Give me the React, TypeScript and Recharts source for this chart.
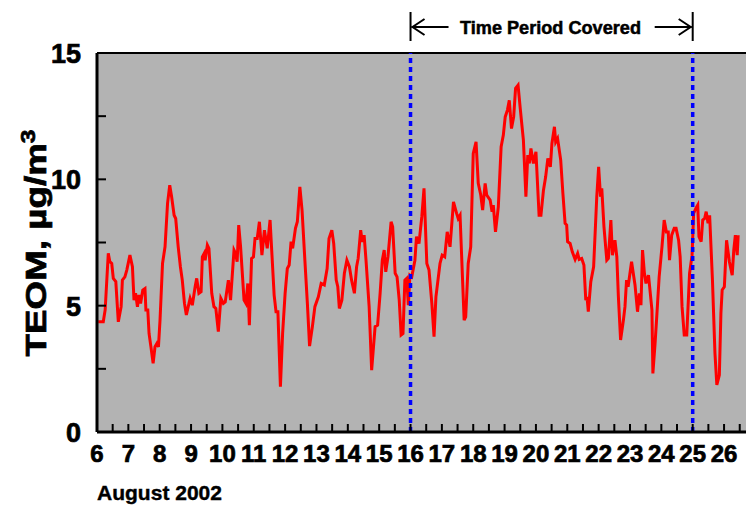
import { LineChart, Line, XAxis, YAxis, CartesianGrid, ReferenceLine } from 'recharts';

// hourly-ish TEOM readings, August 2002 (day of month, fractional)
const days = [
  6.04, 6.2, 6.26, 6.36, 6.41, 6.47, 6.52, 6.6, 6.68, 6.77, 6.81, 6.89, 6.95, 7.05, 7.13, 7.18, 7.23, 7.29, 7.34, 7.39,
  7.46, 7.53, 7.56, 7.62, 7.66, 7.72, 7.79, 7.85, 7.91, 7.96, 8.01, 8.09, 8.17, 8.25, 8.32, 8.38, 8.46, 8.51, 8.59, 8.66,
  8.72, 8.79, 8.85, 8.91, 8.97, 9.04, 9.13, 9.18, 9.25, 9.32, 9.36, 9.42, 9.45, 9.52, 9.57, 9.66, 9.73, 9.79, 9.87, 9.95,
  10.03, 10.09, 10.19, 10.26, 10.37, 10.42, 10.47, 10.52, 10.58, 10.69, 10.75, 10.81, 10.86, 10.93, 10.99, 11.04, 11.11,
  11.18, 11.26, 11.34, 11.43, 11.52, 11.65, 11.71, 11.77, 11.85, 11.92, 12.0, 12.07, 12.13, 12.19, 12.24, 12.33, 12.39,
  12.47, 12.54, 12.63, 12.71, 12.78, 12.87, 12.95, 13.06, 13.15, 13.25, 13.34, 13.4, 13.49, 13.55, 13.63, 13.68, 13.73,
  13.81, 13.89, 13.97, 14.05, 14.12, 14.21, 14.28, 14.33, 14.41, 14.46, 14.52, 14.58, 14.68, 14.76, 14.87, 14.95, 15.03,
  15.1, 15.16, 15.21, 15.28, 15.38, 15.43, 15.51, 15.57, 15.64, 15.7, 15.76, 15.82, 15.88, 15.93, 15.98, 16.04, 16.14,
  16.19, 16.27, 16.36, 16.43, 16.52, 16.59, 16.68, 16.75, 16.81, 16.94, 17.01, 17.09, 17.17, 17.26, 17.37, 17.47, 17.52,
  17.58, 17.66, 17.71, 17.76, 17.84, 17.92, 18.0, 18.09, 18.16, 18.24, 18.3, 18.38, 18.43, 18.54, 18.6, 18.64, 18.71,
  18.8, 18.89, 18.96, 19.02, 19.09, 19.15, 19.22, 19.29, 19.35, 19.43, 19.5, 19.6, 19.68, 19.74, 19.79, 19.84, 19.92,
  20.0, 20.1, 20.16, 20.24, 20.31, 20.38, 20.46, 20.51, 20.59, 20.63, 20.69, 20.79, 20.86, 20.93, 20.98, 21.01, 21.09,
  21.16, 21.25, 21.33, 21.38, 21.46, 21.53, 21.59, 21.63, 21.67, 21.75, 21.84, 21.94, 22.0, 22.06, 22.1, 22.17, 22.26,
  22.31, 22.39, 22.44, 22.52, 22.58, 22.63, 22.7, 22.79, 22.84, 22.89, 22.94, 23.05, 23.16, 23.24, 23.3, 23.35, 23.4,
  23.46, 23.51, 23.59, 23.7, 23.73, 23.8, 23.85, 23.93, 24.02, 24.09, 24.16, 24.22, 24.26, 24.33, 24.41, 24.47, 24.55,
  24.6, 24.66, 24.73, 24.81, 24.9, 24.98, 25.03, 25.1, 25.16, 25.2, 25.27, 25.32, 25.38, 25.43, 25.49, 25.54, 25.63,
  25.71, 25.77, 25.85, 25.9, 25.94, 26.01, 26.08, 26.17, 26.26, 26.31, 26.36, 26.42, 26.45,
];

const teom = [
  4.36, 4.36, 4.83, 7.07, 6.74, 6.67, 6.08, 5.95, 4.36, 4.96, 6.01, 6.14, 6.41, 7.0, 6.54, 5.22, 5.49, 4.96, 5.42, 5.09,
  5.62, 5.68, 4.83, 4.83, 3.9, 3.37, 2.72, 3.37, 3.5, 3.37, 4.43, 6.67, 7.33, 9.05, 9.77, 9.31, 8.58, 8.45, 7.33, 6.54,
  6.01, 5.09, 4.63, 4.96, 5.29, 5.02, 5.75, 6.08, 5.49, 5.55, 6.93, 7.07, 6.8, 7.4, 7.27, 5.49, 4.96, 4.89, 3.97, 5.29,
  5.09, 5.15, 6.01, 5.22, 7.2, 7.07, 6.74, 8.19, 7.33, 5.22, 5.09, 5.88, 4.23, 6.87, 6.93, 7.66, 7.66,
  8.32, 7.0, 7.99, 7.27, 8.39, 5.42, 4.76, 4.76, 1.79, 3.9, 5.49, 6.47, 6.61, 7.53, 7.27, 8.06, 8.32,
  9.7, 8.78, 6.8, 5.09, 3.4, 4.17, 4.96, 5.35, 5.88, 5.82, 6.47, 7.66, 7.99, 7.46, 6.01, 5.75, 4.89,
  5.22, 6.28, 6.8, 6.54, 6.01, 5.49, 6.54, 6.87, 7.99, 7.53, 7.79, 6.8, 4.96, 2.45, 4.17, 4.23, 5.49,
  6.8, 7.2, 6.34, 6.93, 8.32, 8.12, 6.28, 6.14, 5.22, 3.84, 3.9, 6.01, 6.08, 5.02, 6.2, 6.14, 6.8,
  7.73, 7.46, 8.52, 9.64, 6.67, 6.41, 5.09, 3.77, 5.35, 6.67, 7.0, 6.93, 7.92, 7.33, 9.11, 8.65, 8.45,
  8.58, 6.01, 4.43, 4.56, 6.67, 7.33, 11.02, 11.48, 9.84, 9.38, 8.78, 9.84, 9.38, 9.18, 8.72, 8.98, 7.92,
  8.91, 11.29, 11.75, 12.47, 12.74, 13.13, 12.01, 12.47, 13.6, 13.73, 12.8, 11.55, 9.31, 10.96, 10.63, 11.22, 10.63,
  11.09, 8.58, 8.58, 9.57, 10.1, 10.83, 10.49, 11.42, 12.08, 11.48, 11.62, 10.76, 9.44, 8.26, 8.19, 7.53, 7.46,
  7.13, 6.83, 7.07, 6.83, 6.87, 6.61, 5.22, 5.35, 4.76, 5.95, 6.54, 9.31, 10.49, 9.31, 9.64, 8.12, 6.8,
  6.87, 8.39, 7.0, 7.59, 6.93, 5.35, 3.64, 4.43, 4.96, 6.01, 5.75, 6.74, 5.82, 4.76, 5.49, 5.02, 7.2,
  6.28, 5.88, 6.21, 4.83, 2.32, 3.51, 4.5, 6.14, 7.33, 8.39, 7.92, 7.92, 6.8, 7.79, 8.06, 8.06, 7.59,
  6.93, 4.96, 3.84, 3.84, 6.28, 7.0, 8.65, 8.85, 8.98, 7.73, 7.53, 8.39, 8.45, 8.72, 8.26, 8.58, 6.01,
  3.11, 1.86, 2.25, 4.7, 5.62, 5.75, 7.59, 6.74, 6.21, 7.2, 7.79, 7.0, 7.79,
];

const xTicks = [
  6, 6.5, 7, 7.5, 8, 8.5, 9, 9.5, 10, 10.5, 11, 11.5, 12, 12.5, 13, 13.5, 14, 14.5, 15, 15.5, 16, 16.5,
  17, 17.5, 18, 18.5, 19, 19.5, 20, 20.5, 21, 21.5, 22, 22.5, 23, 23.5, 24, 24.5, 25, 25.5, 26, 26.5,
];
const yTicks = [0, 2.5, 5, 7.5, 10, 12.5, 15];
const periodStart = 16;
const periodEnd = 25;

const data = days.map((d, i) => ({ day: d, teom: teom[i] }));

const W = 746;
const H = 506;
const PLOT_LEFT = 97;
const PLOT_TOP = 53;
const X_MIN = 6;
const X_MAX = 26.7;
const px = (d: number) => PLOT_LEFT + ((d - X_MIN) * (W - PLOT_LEFT)) / (X_MAX - X_MIN);

const FONT = "'Liberation Sans', Arial, sans-serif";
// slight outline to get the heavy look of the original lettering
const heavy = { stroke: '#000', strokeWidth: 0.7 };

function XTick({ x, y, payload }: any) {
  const v = payload.value;
  return (
    <g>
      <line x1={x} x2={x} y1={y} y2={y - 8} stroke="#000" strokeWidth={2} />
      {Number.isInteger(v) && (
        <text x={x} y={y + 30} textAnchor="middle" fontFamily={FONT} fontWeight="bold" fontSize={24} fill="#000" {...heavy}>
          {v}
        </text>
      )}
    </g>
  );
}

function YTick({ x, y, payload }: any) {
  const v = payload.value;
  return (
    <g>
      <line x1={x} x2={x + 9} y1={y} y2={y} stroke="#000" strokeWidth={2} />
      {v % 5 === 0 && (
        <text x={x - 16} y={y + 10} textAnchor="end" fontFamily={FONT} fontWeight="bold" fontSize={27} fill="#000" {...heavy}>
          {v}
        </text>
      )}
    </g>
  );
}

export default function App() {
  const a = px(periodStart);
  const b = px(periodEnd);
  return (
    <div style={{ position: 'absolute', left: 0, top: 0, width: W, height: H, background: '#fff' }}>
      <LineChart width={W} height={H} data={data} margin={{ top: PLOT_TOP, right: 0, bottom: 0, left: 0 }}>
        <CartesianGrid horizontal={false} vertical={false} fill="#b3b3b3" />
        <XAxis
          dataKey="day"
          type="number"
          domain={[X_MIN, X_MAX]}
          ticks={xTicks}
          interval={0}
          height={74}
          tickSize={0}
          tickMargin={0}
          tickLine={false}
          axisLine={{ stroke: '#000', strokeWidth: 3 }}
          tick={<XTick />}
          allowDataOverflow
        />
        <YAxis
          type="number"
          domain={[0, 15]}
          ticks={yTicks}
          interval={0}
          width={PLOT_LEFT}
          tickSize={0}
          tickMargin={0}
          tickLine={false}
          axisLine={{ stroke: '#000', strokeWidth: 3 }}
          tick={<YTick />}
        />
        <ReferenceLine y={15} stroke="#000" strokeWidth={2} />
        <Line
          dataKey="teom"
          type="linear"
          stroke="#ff0000"
          strokeWidth={3}
          dot={false}
          isAnimationActive={false}
        />
        <ReferenceLine x={periodStart} stroke="#0000ff" strokeWidth={3.5} strokeDasharray="5 4" />
        <ReferenceLine x={periodEnd} stroke="#0000ff" strokeWidth={3.5} strokeDasharray="5 4" />
      </LineChart>

      <svg width={W} height={H} style={{ position: 'absolute', left: 0, top: 0, pointerEvents: 'none' }}>
        {/* time period annotation */}
        <g stroke="#000" strokeWidth={2} fill="none">
          <line x1={a} x2={a} y1={12} y2={41} />
          <line x1={a + 1} x2={a + 38} y1={27} y2={27} />
          <polyline points={`${a + 14},19 ${a + 2},27 ${a + 14},35`} />
          <line x1={b} x2={b} y1={12} y2={41} />
          <line x1={b - 1} x2={b - 38} y1={27} y2={27} />
          <polyline points={`${b - 14},19 ${b - 2},27 ${b - 14},35`} />
        </g>
        <text
          x={460}
          y={34}
          fontFamily={FONT}
          fontWeight="bold"
          fontSize={18}
          textLength={181}
          lengthAdjust="spacingAndGlyphs"
          fill="#000"
          stroke="#000"
          strokeWidth={0.5}
        >
          Time Period Covered
        </text>

        <text
          x={46}
          y={243}
          transform="rotate(-90 46 243)"
          textAnchor="middle"
          fontFamily={FONT}
          fontWeight="bold"
          fontSize={30}
          textLength={227}
          lengthAdjust="spacingAndGlyphs"
          fill="#000"
          {...heavy}
        >
          TEOM, µg/m<tspan dy={-11} fontSize={20}>3</tspan>
        </text>

        <text
          x={97}
          y={500}
          fontFamily={FONT}
          fontWeight="bold"
          fontSize={21}
          textLength={125}
          lengthAdjust="spacingAndGlyphs"
          fill="#000"
          stroke="#000"
          strokeWidth={0.4}
        >
          August 2002
        </text>
      </svg>
    </div>
  );
}
